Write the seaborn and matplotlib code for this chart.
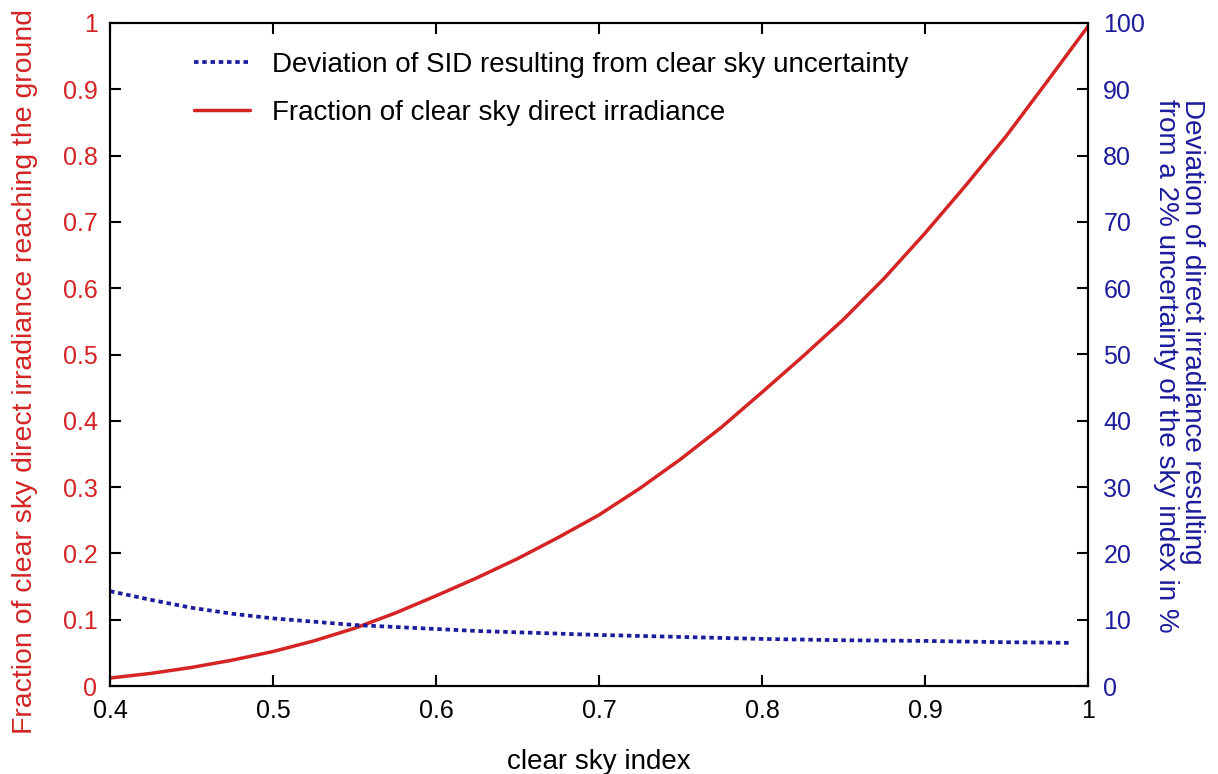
#!/usr/bin/env python3
import matplotlib
matplotlib.use('Agg')  # headless
import matplotlib.pyplot as plt
import seaborn as sns
import pandas as pd
from matplotlib.lines import Line2D

# values
clear_sky_index = [0.400, 0.425, 0.450, 0.475, 0.500, 0.525, 0.550, 0.575, 0.600,
                   0.625, 0.650, 0.675, 0.700, 0.725, 0.750, 0.775, 0.800, 0.825,
                   0.850, 0.875, 0.900, 0.925, 0.950, 0.975, 1.000]
fraction_direct = [0.012, 0.019, 0.028, 0.039, 0.052, 0.068, 0.087, 0.110, 0.136,
                   0.163, 0.192, 0.224, 0.258, 0.298, 0.342, 0.390, 0.443, 0.497,
                   0.553, 0.615, 0.683, 0.755, 0.830, 0.912, 0.995]
dev_index = [0.400, 0.425, 0.450, 0.475, 0.500, 0.525, 0.550, 0.575, 0.600,
             0.625, 0.650, 0.675, 0.700, 0.725, 0.750, 0.775, 0.800, 0.825,
             0.850, 0.875, 0.900, 0.925, 0.950, 0.975, 0.990]
deviation_pct = [14.3, 13.0, 11.8, 10.9, 10.2, 9.7, 9.2, 8.9, 8.6,
                 8.3, 8.1, 7.9, 7.7, 7.55, 7.4, 7.25, 7.1, 7.0,
                 6.9, 6.85, 6.8, 6.7, 6.6, 6.55, 6.5]

RED = '#d42424'
BLUE = '#1c1c9c'
FS = 20       # labels / legend
FS_TICK = 18

sns.set_style('white')
plt.rcParams['font.family'] = ['Liberation Sans', 'DejaVu Sans']

frac_df = pd.DataFrame({'k': clear_sky_index, 'frac': fraction_direct})
dev_df = pd.DataFrame({'k': dev_index, 'dev': deviation_pct})

fig = plt.figure(figsize=(12.18, 7.74), dpi=100)
ax = fig.add_axes([110 / 1218, 1 - 686 / 774, 978 / 1218, 663 / 774])
ax2 = ax.twinx()

sns.lineplot(data=frac_df, x='k', y='frac', ax=ax, color=RED, lw=2.5)
sns.lineplot(data=dev_df, x='k', y='dev', ax=ax2, color=BLUE, lw=2.7, linestyle=(0, (1.2, 1.0)))

ax.set_xlim(0.4, 1.0)
ax.set_ylim(0, 1)
ax2.set_ylim(0, 100)
ax.set_xticks([0.4, 0.5, 0.6, 0.7, 0.8, 0.9, 1.0])
ax.set_xticklabels(['0.4', '0.5', '0.6', '0.7', '0.8', '0.9', '1'])
ax.set_yticks([i / 10 for i in range(11)])
ax.set_yticklabels(['0'] + [f'0.{i}' for i in range(1, 10)] + ['1'])
ax2.set_yticks(range(0, 101, 10))

for a in (ax, ax2):
    for s in a.spines.values():
        s.set_color('black')
        s.set_linewidth(1.5)

ax.tick_params(axis='x', direction='in', length=8, width=1.5, pad=9,
               labelsize=FS_TICK, colors='black', top=True, bottom=True)
ax.tick_params(axis='y', direction='in', length=8, width=1.5, pad=9,
               labelsize=FS_TICK, colors='black', labelcolor=RED, left=True, right=False)
ax2.tick_params(axis='y', direction='in', length=8, width=1.5, pad=11,
                labelsize=FS_TICK, colors='black', labelcolor=BLUE)

ax.set_xlabel('clear sky index', fontsize=FS, color='black')
ax.xaxis.set_label_coords(0.5, -0.095)
ax.set_ylabel('Fraction of clear sky direct irradiance reaching the ground', fontsize=20.4, color=RED)
ax.yaxis.set_label_coords(-0.074, 0.474)
ax2.set_ylabel('')

fig.text(1179 / 1218, 1 - 99 / 774,
         'Deviation of direct irradiance resulting\nfrom a 2% uncertainty of the sky index in %',
         rotation=270, ha='center', va='top', multialignment='left',
         fontsize=20.1, color=BLUE, linespacing=1.0)

handles = [Line2D([], [], color=BLUE, lw=2.7, linestyle=(0, (1.2, 1.0))),
           Line2D([], [], color=RED, lw=2.5)]
labels = ['Deviation of SID resulting from clear sky uncertainty',
          'Fraction of clear sky direct irradiance']
leg = ax.legend(handles, labels, loc='upper left', bbox_to_anchor=(0.086, 0.956),
                frameon=False, fontsize=FS, handlelength=2.0, handletextpad=0.8,
                labelspacing=0.78, borderpad=0, borderaxespad=0)
for t in leg.get_texts():
    t.set_color('black')

fig.savefig('out.png', dpi=100)
plt.close(fig)
